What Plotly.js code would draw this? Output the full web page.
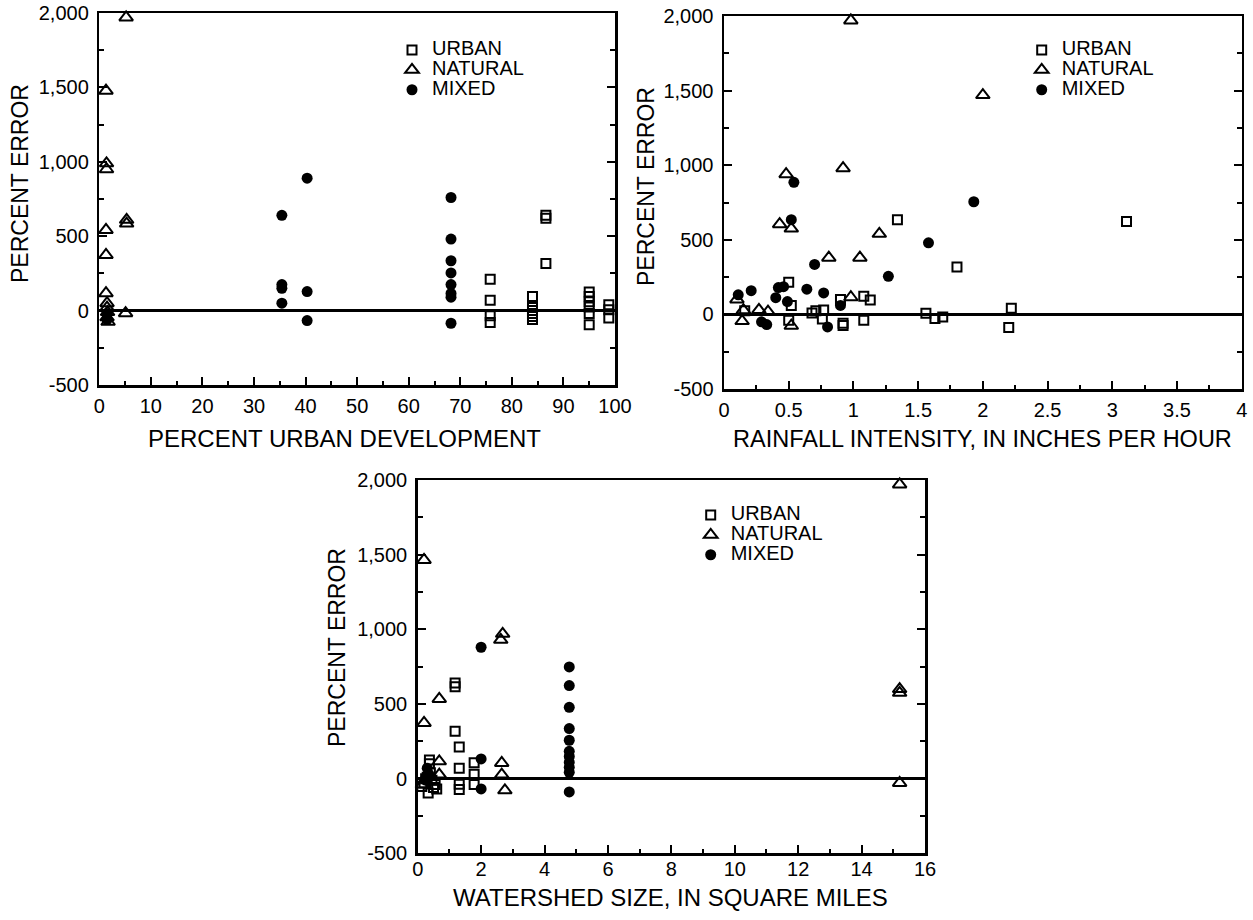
<!DOCTYPE html>
<html>
<head>
<meta charset="utf-8">
<script src="https://cdn.plot.ly/plotly-3.0.1.min.js"></script>
<style>html,body{margin:0;padding:0;background:#fff}#chart{width:1253px;height:920px}</style>
</head>
<body>
<div id="chart"></div>
<script>
// ---------- DATA ----------
const seriesNames = ['URBAN', 'NATURAL', 'MIXED'];

// Panel 1: percent urban development
const urbanUrbX = [75.8,75.8,75.8,75.8, 84,84,84,84,84,84, 86.6,86.6,86.6, 95,95,95,95,95,95, 98.8,98.8,98.8];
const urbanUrbY = [210,70,-35,-80, 95,20,0,-20,-40,-60, 640,620,316, 125,95,60,25,-20,-95, 40,5,-50];
const naturalUrbX = [5.2,1.3,1.4,1.4,5.3,5.3,1.3,1.3,1.3,5.1,1.5,1.5,1.6,1.5,1.7];
const naturalUrbY = [1970,1478,990,950,610,585,542,374,117,-17,50,20,-10,-45,-75];
const mixedUrbX = [35.4,35.4,35.4,35.4, 40.3,40.3,40.3, 68.2,68.2,68.2,68.2,68.2,68.2,68.2,68.2, 1.5,1.5];
const mixedUrbY = [640,175,150,50, 890,128,-67, 760,481,335,253,175,115,90,-85, -20,-60];

// Panel 2: rainfall intensity, inches per hour
const urbanRainX = [0.16,0.50,0.52,0.50,0.68,0.71,0.77,0.76,0.90,0.92,0.92,1.08,1.13,1.08,1.34,1.80,1.56,1.63,1.69,2.22,2.20,3.11];
const urbanRainY = [25,215,60,-40,10,25,30,-30,100,-60,-75,122,97,-40,635,318,8,-28,-18,41,-88,622];
const naturalRainX = [0.98,2.0,0.48,0.92,0.43,0.52,1.2,0.81,1.05,0.98,0.10,0.15,0.14,0.27,0.34,0.52];
const naturalRainY = [1970,1470,940,980,605,575,540,380,380,115,100,28,-45,30,18,-76];
const mixedRainX = [0.54,0.52,1.93,1.58,1.27,0.70,0.11,0.21,0.42,0.46,0.40,0.49,0.64,0.77,0.90,0.33,0.80,0.29];
const mixedRainY = [885,635,755,480,255,335,131,159,180,186,112,86,169,144,60,-68,-84,-50];

// Panel 3: watershed size, square miles
const urbanSizeX = [1.18,1.18,1.18,1.31,1.31,1.31,1.31,1.78,1.78,1.78,0.37,0.37,0.55,0.33,0.13,0.40,0.30,0.45,0.20,0.50,0.25,0.60];
const urbanSizeY = [640,615,317,212,70,-38,-72,107,30,-40,125,100,-40,-96,-52,40,10,-10,-30,-60,0,-70];
const naturalSizeX = [0.2,0.2,0.68,2.68,2.62,2.65,2.65,2.75,0.68,0.68,15.2,15.2,15.2,15.2,0.15,0.3];
const naturalSizeY = [1465,373,534,970,930,105,27,-78,116,27,1970,600,575,-29,-40,20];
const mixedSizeX = [2.0,2.0,2.0, 4.78,4.78,4.78,4.78,4.78,4.78,4.78,4.78,4.78,4.78,4.78, 0.3,0.35,0.25];
const mixedSizeY = [880,132,-69, 748,623,478,335,257,183,149,109,76,42,-89, 70,30,-10];

// Tick labels and titles
const yTickVals = [-500, 0, 500, 1000, 1500, 2000];
const yTickText = ['-500', '0', '500', '1,000', '1,500', '2,000'];
const yTitle = 'PERCENT ERROR';
const xTitles = ['PERCENT URBAN DEVELOPMENT', 'RAINFALL INTENSITY, IN INCHES PER HOUR', 'WATERSHED SIZE, IN SQUARE MILES'];

// ---------- STYLE ----------
const W = 1253, H = 920;
const FONT = 'Liberation Sans, Arial, Helvetica, sans-serif';
const markerStyles = [
  {symbol: 'square-open', size: 9, color: '#000', line: {color: '#000', width: 2}},
  {symbol: 'triangle-up-open', size: 12, color: '#000', line: {color: '#000', width: 2}},
  {symbol: 'circle', size: 11, color: '#000', line: {width: 0}}
];

const panels = [
  {xs: [urbanUrbX, naturalUrbX, mixedUrbX], ys: [urbanUrbY, naturalUrbY, mixedUrbY], ax: '', legend: 'legend'},
  {xs: [urbanRainX, naturalRainX, mixedRainX], ys: [urbanRainY, naturalRainY, mixedRainY], ax: '2', legend: 'legend2'},
  {xs: [urbanSizeX, naturalSizeX, mixedSizeX], ys: [urbanSizeY, naturalSizeY, mixedSizeY], ax: '3', legend: 'legend3'}
];

const traces = [];
panels.forEach(p => {
  for (let i = 0; i < 3; i++) {
    traces.push({
      type: 'scatter', mode: 'markers',
      x: p.xs[i], y: p.ys[i],
      name: '<span style="font-size:20px">' + seriesNames[i] + '</span>',
      xaxis: 'x' + p.ax, yaxis: 'y' + p.ax,
      legend: p.legend,
      marker: markerStyles[i],
      cliponaxis: false,
      hoverinfo: 'x+y'
    });
  }
});

function xDom(l, r) { return [l / W, r / W]; }
function yDom(t, b) { return [1 - b / H, 1 - t / H]; }

function xAxis(dom, range, dtick, minorDtick, anchor, standoff) {
  return {
    domain: dom, range: range, anchor: anchor,
    showline: true, linewidth: 2.5, linecolor: '#000', mirror: true,
    showgrid: false, zeroline: false,
    ticks: 'inside', ticklen: 8, tickwidth: 2, tickcolor: '#000',
    tick0: 0, dtick: dtick,
    minor: {ticks: 'inside', ticklen: 4, tickwidth: 2, tickcolor: '#000', dtick: minorDtick, tick0: 0, showgrid: false},
    ticklabelstandoff: standoff,
    tickfont: {family: FONT, size: 20, color: '#000'}
  };
}
function yAxis(dom, anchor) {
  return {
    domain: dom, range: [-500, 2000], anchor: anchor,
    showline: true, linewidth: 2.5, linecolor: '#000', mirror: 'ticks',
    showgrid: false, zeroline: true, zerolinewidth: 2.5, zerolinecolor: '#000',
    ticks: 'inside', ticklen: 8, tickwidth: 2, tickcolor: '#000',
    tickvals: yTickVals, ticktext: yTickText,
    minor: {ticks: 'inside', ticklen: 5, tickwidth: 2, tickcolor: '#000', dtick: 250, tick0: 0, showgrid: false},
    ticklabelstandoff: 4,
    tickfont: {family: FONT, size: 20, color: '#000'}
  };
}
function legendAt(x, y) {
  return {x: x, y: y, xanchor: 'left', yanchor: 'top', bgcolor: 'rgba(0,0,0,0)', borderwidth: 0,
          font: {family: FONT, size: 13, color: '#000'}, tracegroupgap: 0};
}
function titleAnn(text, cx, cy, angle, size) {
  return {text: text, xref: 'paper', yref: 'paper', x: cx / W, y: 1 - cy / H,
          xanchor: 'center', yanchor: 'middle', showarrow: false, textangle: angle,
          font: {family: FONT, size: size, color: '#000'}};
}

const layout = {
  width: W, height: H,
  margin: {l: 0, r: 0, t: 0, b: 0},
  paper_bgcolor: '#fff', plot_bgcolor: '#fff',
  font: {family: FONT, color: '#000'},
  showlegend: true,
  xaxis: xAxis(xDom(99.3, 615), [0, 100], 10, 5, 'y', 1),
  yaxis: yAxis(yDom(13, 385), 'x'),
  xaxis2: xAxis(xDom(724, 1241.7), [0, 4], 0.5, 0.25, 'y2', 1),
  yaxis2: yAxis(yDom(16, 389), 'x2'),
  xaxis3: xAxis(xDom(417.7, 925), [0, 16], 2, 1, 'y3', -4),
  yaxis3: yAxis(yDom(480, 853.3), 'x3'),
  legend: legendAt(392 / W, 1 - 35 / H),
  legend2: legendAt(1021.7 / W, 1 - 35 / H),
  legend3: legendAt(690.7 / W, 1 - 500 / H),
  annotations: [
    titleAnn(xTitles[0], 344, 439, 0, 24),
    titleAnn(xTitles[1], 982, 439, 0, 23.5),
    titleAnn(xTitles[2], 670, 897, 0, 24),
    titleAnn(yTitle, 20, 184, -90, 23),
    titleAnn(yTitle, 646, 187, -90, 23),
    titleAnn(yTitle, 337, 648, -90, 23)
  ]
};

Plotly.newPlot('chart', traces, layout, {staticPlot: true, displayModeBar: false});
</script>
</body>
</html>
